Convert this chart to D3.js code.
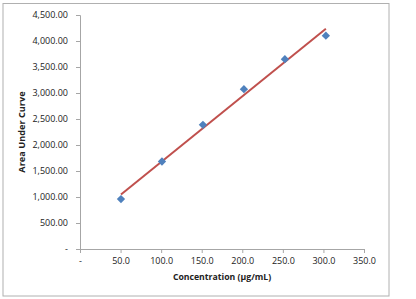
<!DOCTYPE html>
<html>
<head>
<meta charset="utf-8">
<script src="https://cdn.jsdelivr.net/npm/d3@7"></script>
<style>
  body { margin: 0; background: #fff; }
  svg text { font-family: "Open Sans", "Liberation Sans", sans-serif; fill: #222; }
</style>
</head>
<body>
<div id="chart"></div>
<script>
// concentration (µg/mL) and measured area under curve
const concentration = [50.5, 101, 151.5, 202, 252.5, 303];
const auc = [960, 1683, 2388, 3073, 3650, 4103];
const xTicks = [0, 50, 100, 150, 200, 250, 300, 350];
const yTicks = [0, 500, 1000, 1500, 2000, 2500, 3000, 3500, 4000, 4500];

const W = 416, H = 299;
const margin = {top: 15, right: 52, bottom: 50, left: 80};
const width = 364 - margin.left,
      height = 249 - margin.top;

let svg = d3.select("#chart").append("svg")
    .attr("width", W)
    .attr("height", H);

// outer chart border
svg.append("rect")
    .attr("x", 3).attr("y", 3.5)
    .attr("width", 386).attr("height", 292.5)
    .attr("fill", "none")
    .attr("stroke", "#b0b0b0")
    .attr("stroke-width", 1);

let g = svg.append("g").attr("transform", "translate(" + margin.left + "," + margin.top + ")");

let x = d3.scaleLinear().domain([0, 350]).range([0, width]);
let y = d3.scaleLinear().domain([0, 4500]).range([height, 0]);

let fmtY = d3.format(",.2f"), fmtX = d3.format(".1f");

let xAxis = g.append("g")
    .attr("transform", "translate(0," + height + ")")
    .call(d3.axisBottom(x).tickValues(xTicks).tickSize(4).tickPadding(5)
        .tickFormat(function(d) { return d === 0 ? "-" : fmtX(d); }));

let yAxis = g.append("g")
    .call(d3.axisLeft(y).tickValues(yTicks).tickSize(4).tickPadding(8)
        .tickFormat(function(d) { return d === 0 ? "-" : fmtY(d); }));

[xAxis, yAxis].forEach(function(a) {
    a.select(".domain").attr("stroke", "#a6a6a6");
    a.selectAll(".tick line").attr("stroke", "#a6a6a6");
    a.selectAll("text").style("font-size", "9px").attr("fill", "#222");
});

// least squares trend line
let mx = d3.mean(concentration), my = d3.mean(auc);
let sxy = d3.sum(concentration, function(d, i) { return (d - mx) * (auc[i] - my); });
let sxx = d3.sum(concentration, function(d) { return (d - mx) * (d - mx); });
let slope = sxy / sxx, icpt = my - slope * mx;
let xEnds = d3.extent(concentration);

g.append("line")
    .attr("x1", x(xEnds[0])).attr("y1", y(icpt + slope * xEnds[0]))
    .attr("x2", x(xEnds[1])).attr("y2", y(icpt + slope * xEnds[1]))
    .attr("stroke", "#C0504D")
    .attr("stroke-width", 2);

g.selectAll(".pt")
    .data(concentration)
    .enter().append("path")
    .attr("class", "pt")
    .attr("d", d3.symbol().type(d3.symbolDiamond2).size(44))
    .attr("transform", function(d, i) { return "translate(" + x(d) + "," + y(auc[i]) + ")"; })
    .attr("fill", "#4F81BD");

svg.append("text")
    .attr("x", margin.left + x(175))
    .attr("y", 280)
    .attr("text-anchor", "middle")
    .style("font-size", "8.7px")
    .style("font-weight", "bold")
    .text("Concentration (µg/mL)");

svg.append("text")
    .attr("transform", "translate(25," + (margin.top + height / 2) + ") rotate(-90)")
    .attr("text-anchor", "middle")
    .style("font-size", "9.2px")
    .style("font-weight", "bold")
    .text("Area Under Curve");
</script>
</body>
</html>
